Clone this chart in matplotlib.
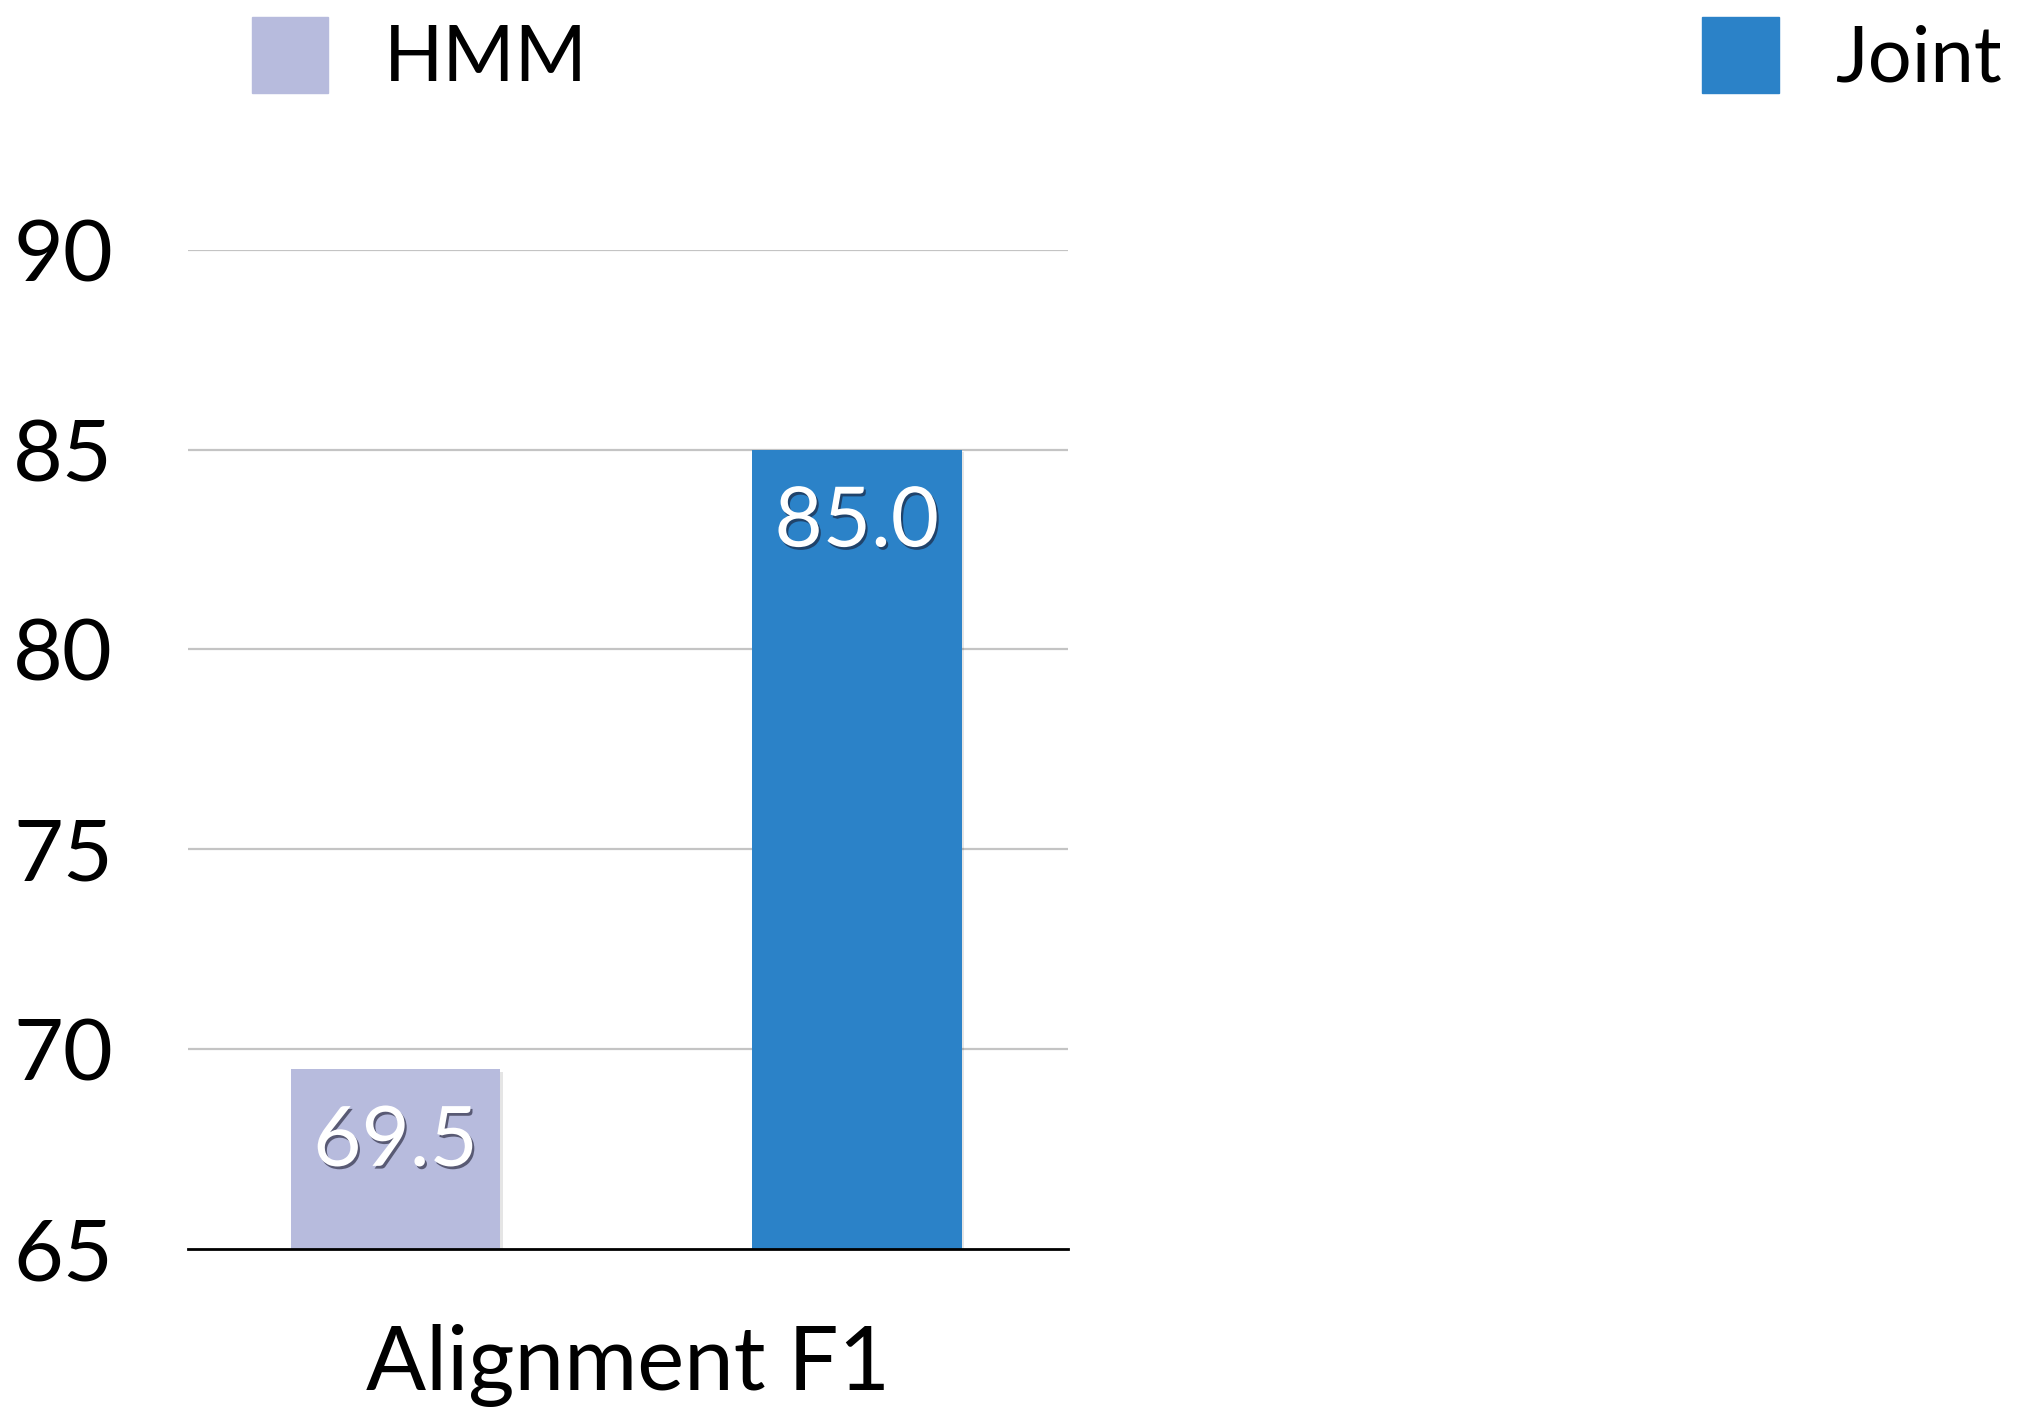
from matplotlib import pyplot as plt
from matplotlib.patches import Patch
import matplotlib.patheffects as pe

# data
categories = ["HMM", "Joint"]
scores = [69.5, 85.0]
colors = ["#b7bbdd", "#2b82c8"]
yticks = [65, 70, 75, 80, 85, 90]
xlabel = "Alignment F1"

plt.rcParams['font.family'] = ['Lato', 'DejaVu Sans']

fig = plt.figure(figsize=(20.17, 14.11), dpi=100)
ax = fig.add_axes([0.0932, 0.115, 0.4363, 0.708])

xs = [0, 1]
bars = ax.bar(xs, [s - 65 for s in scores], bottom=65, width=0.455,
              color=colors, zorder=3)
for b in bars:
    b.set_path_effects([pe.SimplePatchShadow(offset=(2, -2), shadow_rgbFace='k', alpha=0.1),
                        pe.Normal()])

for x, s in zip(xs, scores):
    ax.text(x, s - 1.85, "%.1f" % s, ha="center", va="center", color="white",
            fontsize=60, zorder=5,
            path_effects=[pe.withSimplePatchShadow(offset=(1.5, -2), shadow_rgbFace='#1a1a2e', alpha=0.6)])

ax.set_ylim(65, 90)
ax.set_xlim(-0.45, 1.458)
ax.set_yticks(yticks)
ax.set_yticklabels([str(t) for t in yticks], fontsize=62)
ax.set_xticks([])
ax.tick_params(axis="y", length=0, pad=54)
for t in yticks[1:]:
    ax.axhline(t, color="#c4c4c4", lw=1.6, zorder=1)
for s in ["top", "right", "left"]:
    ax.spines[s].set_visible(False)
ax.spines["bottom"].set_color("black")
ax.spines["bottom"].set_linewidth(2)
ax.spines["bottom"].set_zorder(4)
ax.set_xlabel(xlabel, fontsize=64, labelpad=54)

# two legend entries, one on each side
leg_x = [0.125, 0.844]
for c, lab, lx in zip(colors, categories, leg_x):
    leg = fig.legend([Patch(color=c)], [lab], loc="upper left",
                     bbox_to_anchor=(lx, 0.988), frameon=False, fontsize=56,
                     handlelength=0.98, handleheight=1.12, handletextpad=0.72,
                     borderpad=0, borderaxespad=0)

fig.savefig("out.png", dpi=100)
